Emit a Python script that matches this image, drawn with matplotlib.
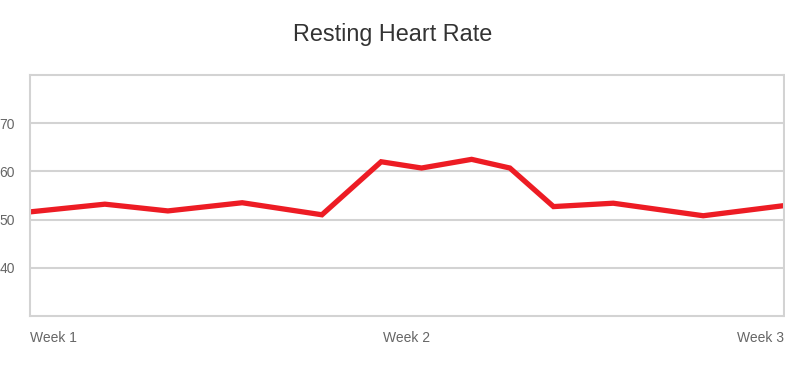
import matplotlib.pyplot as plt
import matplotlib.transforms as mtransforms

# ------------------------------
# Data
# ------------------------------
days = [0, 1.39, 2.56, 3.94, 5.42, 6.52, 7.27, 8.2, 8.91, 9.72, 10.83, 12.5, 14]
heart_rate = [51.6, 53.2, 51.8, 53.5, 51.0, 62.0, 60.7, 62.5, 60.7, 52.7, 53.4, 50.8, 52.9]
week_ticks = [0, 7, 14]
week_labels = ['Week 1', 'Week 2', 'Week 3']
y_ticks = [40, 50, 60, 70]

plt.rcParams['font.family'] = ['Liberation Sans', 'DejaVu Sans']

grid_color = '#d3d3d3'
text_color = '#666666'

fig = plt.figure(figsize=(7.85, 3.68), dpi=100)
ax = fig.add_axes([30 / 785, 52 / 368, 754 / 785, 241 / 368])

ax.plot(days, heart_rate, color='#ed1c24', linewidth=3.8, solid_joinstyle='miter')

ax.set_xlim(0, 14)
ax.set_ylim(30, 80)
ax.set_yticks(y_ticks)
ax.set_yticklabels([str(v) for v in y_ticks])
ax.set_xticks(week_ticks)
ax.set_xticklabels(week_labels)

# first label hugs the left edge, last one the right edge
labels = ax.get_xticklabels()
labels[0].set_horizontalalignment('left')
labels[-1].set_horizontalalignment('right')
labels[0].set_transform(labels[0].get_transform() +
                        mtransforms.ScaledTranslation(2 / 100, 0, fig.dpi_scale_trans))
labels[-1].set_transform(labels[-1].get_transform() +
                         mtransforms.ScaledTranslation(-2 / 100, 0, fig.dpi_scale_trans))

ax.grid(axis='y', color=grid_color, linewidth=1.5)
ax.set_axisbelow(True)
for spine in ax.spines.values():
    spine.set_color(grid_color)
    spine.set_linewidth(1.5)

ax.tick_params(axis='both', length=0, labelsize=10, labelcolor=text_color)
ax.tick_params(axis='y', pad=11)
ax.tick_params(axis='x', pad=10.5)

fig.text(0.5, 1 - 34 / 368, 'Resting Heart Rate', ha='center', va='center',
         fontsize=16.8, color='#333333')

fig.savefig('out.png', dpi=100)
